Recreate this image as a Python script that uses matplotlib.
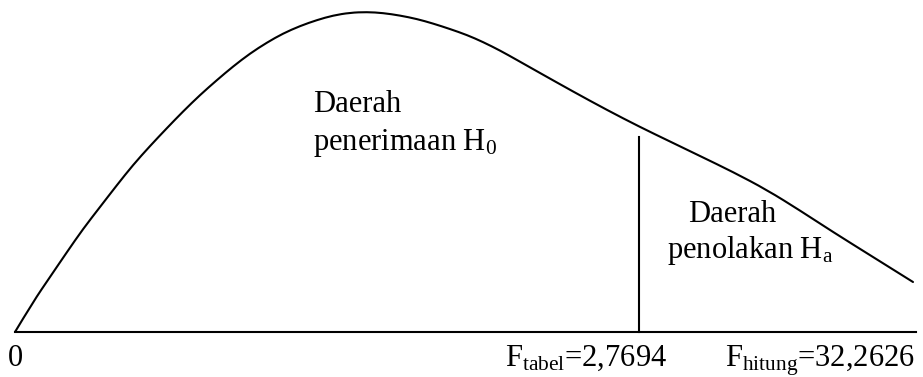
import matplotlib
matplotlib.use('Agg')
import matplotlib.pyplot as plt
from matplotlib.path import Path
from matplotlib.patches import PathPatch

# curve: horizontal position and height above the baseline
curve_x = [15, 33, 50, 67, 83, 100, 117, 133, 150, 167, 183, 200, 217, 233, 250,
           267, 283, 300, 317, 333, 350, 367, 383, 400, 417, 433, 450, 467, 483,
           500, 517, 540, 573, 607, 640, 670, 700, 733, 767, 800, 833, 873, 913]
curve_y = [0, 30, 55, 80, 103, 125, 147, 167, 186, 204, 220.5, 237, 252, 265.5,
           278.5, 289.5, 298.5, 306, 312, 316.5, 319.3, 320, 319, 316.5, 313,
           308.5, 303, 297, 290, 281.5, 272, 259, 240.5, 222, 205, 190.5, 176,
           160, 142, 121.5, 100, 75, 50]

f_tabel_x = 639
f_tabel_h = 195
axis_start = 15
axis_end = 916

label_zero = '0'
label_tabel = r'F$_{\mathrm{tabel}}$=2,7694'
label_hitung = r'F$_{\mathrm{hitung}}$=32,2626'
label_accept = ['Daerah', r'penerimaan H$_{\mathrm{0}}$']
label_reject = ['Daerah', r'penolakan H$_{\mathrm{a}}$']


def smooth_path(xs, ys):
    # quadratic bezier pieces through the midpoints, read points as controls
    verts = [(xs[0], ys[0])]
    codes = [Path.MOVETO]
    for i in range(1, len(xs) - 1):
        mx = (xs[i] + xs[i + 1]) / 2.0
        my = (ys[i] + ys[i + 1]) / 2.0
        if i == len(xs) - 2:
            mx, my = xs[-1], ys[-1]
        verts += [(xs[i], ys[i]), (mx, my)]
        codes += [Path.CURVE3, Path.CURVE3]
    return Path(verts, codes)


def main():
    plt.rcParams['font.family'] = ['Liberation Serif', 'DejaVu Serif']
    plt.rcParams['mathtext.fontset'] = 'custom'
    plt.rcParams['mathtext.rm'] = 'Liberation Serif'
    plt.rcParams['mathtext.it'] = 'Liberation Serif:italic'

    fig = plt.figure(figsize=(9.23, 3.77), dpi=100)
    ax = fig.add_axes([0, 0, 1, 1])
    ax.set_xlim(0, 923)
    ax.set_ylim(-45, 332)
    ax.axis('off')

    ax.add_patch(PathPatch(smooth_path(curve_x, curve_y), facecolor='none',
                           edgecolor='black', lw=1.5, capstyle='round'))
    ax.plot([axis_start, axis_end], [0, 0], color='black', lw=1.5)
    ax.plot([f_tabel_x, f_tabel_x], [0, f_tabel_h], color='black', lw=1.5)

    fs = 22
    ax.text(8, -34, label_zero, fontsize=fs, va='baseline', ha='left')
    ax.text(505, -34, label_tabel, fontsize=fs, va='baseline', ha='left')
    ax.text(725, -34, label_hitung, fontsize=fs, va='baseline', ha='left')

    ax.text(313, 220, label_accept[0], fontsize=fs, va='baseline', ha='left')
    ax.text(313, 182, label_accept[1], fontsize=fs, va='baseline', ha='left')
    ax.text(688, 110, label_reject[0], fontsize=fs, va='baseline', ha='left')
    ax.text(667, 74, label_reject[1], fontsize=fs, va='baseline', ha='left')

    fig.savefig('out.png', dpi=100)


if __name__ == '__main__':
    main()
